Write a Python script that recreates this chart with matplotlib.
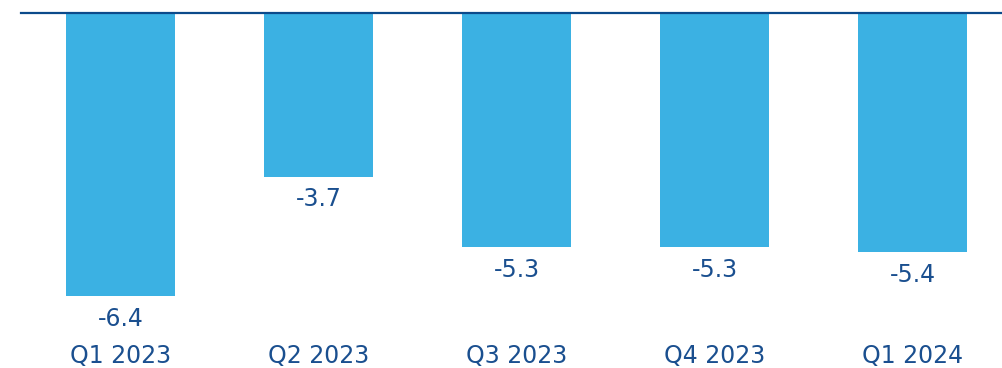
import matplotlib.pyplot as plt

quarters = ["Q1 2023", "Q2 2023", "Q3 2023", "Q4 2023", "Q1 2024"]
values = [-6.4, -3.7, -5.3, -5.3, -5.4]

bar_color = "#3bb1e3"
text_color = "#1a4f8f"
line_color = "#0b4a8b"

W, H = 1003, 368
fig = plt.figure(figsize=(W / 100, H / 100), dpi=100)
# axes: left edge at 21px, zero line at 13px from top, bottom at 330px
ax = fig.add_axes([21 / W, 1 - 330 / H, 1 - 21 / W, (330 - 13) / H])

x = list(range(len(quarters)))
ax.bar(x, values, width=0.55, color=bar_color, zorder=2)

for xi, v in zip(x, values):
    ax.annotate(f"{v:.1f}", (xi, v), xytext=(0, -16.5), textcoords="offset points",
                ha="center", va="center", fontsize=17, color=text_color)

ax.set_xlim((21 - 120.5) / 198, (W - 120.5) / 198)
ax.set_ylim(-317 / 44.2, 0)

for s in ["left", "right", "bottom"]:
    ax.spines[s].set_visible(False)
ax.spines["top"].set_color(line_color)
ax.spines["top"].set_linewidth(1.6)
ax.spines["top"].set_zorder(3)

ax.set_yticks([])
ax.set_xticks(x)
ax.set_xticklabels(quarters, fontsize=17, color=text_color)
ax.tick_params(axis="x", length=0, pad=10)

fig.savefig("out.png", dpi=100)
